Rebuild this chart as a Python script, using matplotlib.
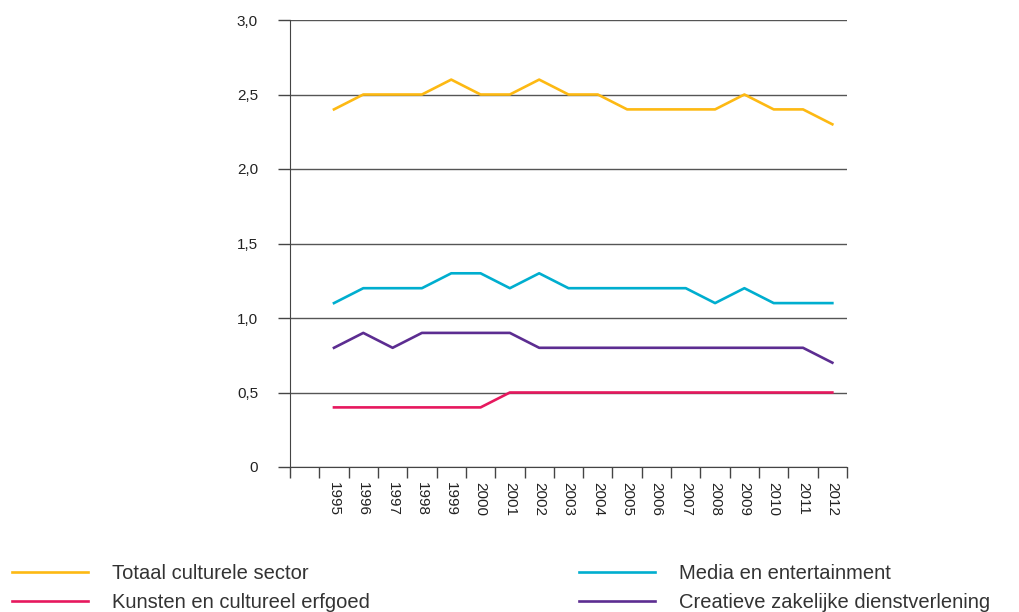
import numpy as np
import matplotlib.pyplot as plt

years = ['1995', '1996', '1997', '1998', '1999', '2000', '2001', '2002', '2003',
         '2004', '2005', '2006', '2007', '2008', '2009', '2010', '2011', '2012']
totaal = [2.4, 2.5, 2.5, 2.5, 2.6, 2.5, 2.5, 2.6, 2.5, 2.5, 2.4, 2.4, 2.4, 2.4, 2.5, 2.4, 2.4, 2.3]
media = [1.1, 1.2, 1.2, 1.2, 1.3, 1.3, 1.2, 1.3, 1.2, 1.2, 1.2, 1.2, 1.2, 1.1, 1.2, 1.1, 1.1, 1.1]
creatief = [0.8, 0.9, 0.8, 0.9, 0.9, 0.9, 0.9, 0.8, 0.8, 0.8, 0.8, 0.8, 0.8, 0.8, 0.8, 0.8, 0.8, 0.7]
kunsten = [0.4, 0.4, 0.4, 0.4, 0.4, 0.4, 0.5, 0.5, 0.5, 0.5, 0.5, 0.5, 0.5, 0.5, 0.5, 0.5, 0.5, 0.5]
yticks = [0, 0.5, 1.0, 1.5, 2.0, 2.5, 3.0]
ylabels = ['0', '0,5', '1,0', '1,5', '2,0', '2,5', '3,0']

plt.rcParams['font.family'] = ['Liberation Sans', 'DejaVu Sans']

fig = plt.figure(figsize=(10.19, 6.12), dpi=100)
ax = fig.add_axes([290 / 1019, 1 - 467 / 612, 557 / 1019, 447 / 612])

x = np.arange(len(years))
c_tot, c_med, c_kun, c_cre = '#FDB913', '#00AECF', '#E6185E', '#5C2D91'
lw = 1.9
l1, = ax.plot(x, totaal, color=c_tot, lw=lw, label='Totaal culturele sector')
l2, = ax.plot(x, media, color=c_med, lw=lw, label='Media en entertainment')
l3, = ax.plot(x, kunsten, color=c_kun, lw=lw, label='Kunsten en cultureel erfgoed')
l4, = ax.plot(x, creatief, color=c_cre, lw=lw, label='Creatieve zakelijke dienstverlening')

ax.set_xlim(-1.5, len(years) - 0.5)
ax.set_ylim(0, 3.0)

# major ticks on the category boundaries, labels in the middle
ax.set_xticks(np.arange(-1.5, len(years), 1.0))
ax.set_xticklabels([])
ax.set_xticks(x, years, minor=True)
ax.tick_params(axis='x', which='major', length=8, width=1, color='#444444', direction='out')
ax.tick_params(axis='x', which='minor', length=0, pad=11, labelsize=11,
               labelrotation=270, labelcolor='#222222')

ax.set_yticks(yticks, ylabels)
ax.tick_params(axis='y', length=9, width=1, color='#444444', pad=14,
               labelsize=11, labelcolor='#222222')
ax.yaxis.grid(True, color='#555555', lw=1)
ax.set_axisbelow(True)

for s in ['top', 'right']:
    ax.spines[s].set_visible(False)
ax.spines['left'].set_color('#444444')
ax.spines['bottom'].set_color('#444444')

leg_kw = dict(loc='upper left', frameon=False, fontsize=14.5, handlelength=3.75,
              handletextpad=1.2, labelspacing=0.5, borderpad=0, borderaxespad=0,
              labelcolor='#333333')
fig.legend(handles=[l1, l3], bbox_to_anchor=(12 / 1019, 1 - 564 / 612), **leg_kw)
fig.legend(handles=[l2, l4], bbox_to_anchor=(579 / 1019, 1 - 564 / 612), **leg_kw)

fig.savefig('out.png', dpi=100)
